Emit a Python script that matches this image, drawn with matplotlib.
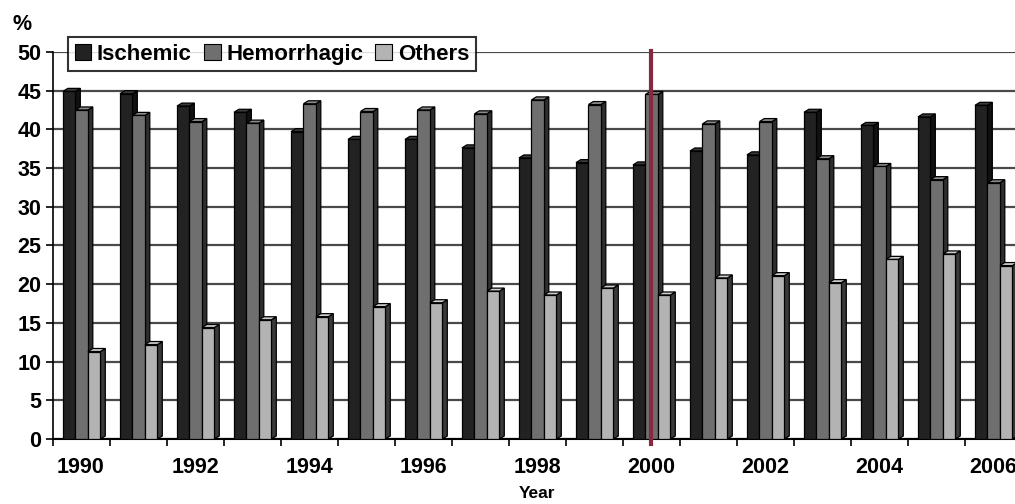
import matplotlib
matplotlib.use("Agg")
import matplotlib.pyplot as plt
from matplotlib.patches import Polygon, Patch

plt.rcParams['font.family'] = ['Liberation Sans', 'DejaVu Sans']
plt.rcParams['font.weight'] = 'bold'

years = list(range(1990, 2007))
ischemic = [44.9, 44.6, 43.0, 42.2, 39.7, 38.7, 38.7, 37.6, 36.3, 35.7, 35.4, 37.2, 36.7, 42.2, 40.5, 41.6, 43.1]
hemorrhagic = [42.5, 41.8, 41.0, 40.8, 43.3, 42.3, 42.5, 42.0, 43.8, 43.2, 44.5, 40.7, 41.0, 36.2, 35.2, 33.5, 33.1]
others = [11.3, 12.2, 14.4, 15.4, 15.8, 17.1, 17.6, 19.1, 18.6, 19.5, 18.6, 20.8, 21.1, 20.2, 23.2, 23.9, 22.4]
series_names = ["Ischemic", "Hemorrhagic", "Others"]
marker_year = 2000

# front, side, top colours for each series
front_cols = ["#222222", "#6f6f6f", "#b3b3b3"]
side_cols = ["#111111", "#2e2e2e", "#3a3a3a"]
top_cols = ["#3a3a3a", "#8a8a8a", "#cdcdcd"]

fig = plt.figure(figsize=(10.15, 5.04), dpi=100)
ax = fig.add_axes([52.5 / 1015, 0.129, 969 / 1015, 0.768])

bar_w = 0.219
start = 0.184
dx = 0.085   # depth in x (group units)
dy = 0.39    # depth in y (percent units)


def bar3d(ax, x, h, fc, sc, tc, z):
	front = Polygon([(x, 0), (x + bar_w, 0), (x + bar_w, h), (x, h)], closed=True,
		facecolor=fc, edgecolor="black", lw=0.9, zorder=z)
	side = Polygon([(x + bar_w, 0), (x + bar_w + dx, dy), (x + bar_w + dx, h + dy), (x + bar_w, h)],
		closed=True, facecolor=sc, edgecolor="black", lw=0.9, zorder=z)
	top = Polygon([(x, h), (x + bar_w, h), (x + bar_w + dx, h + dy), (x + dx, h + dy)],
		closed=True, facecolor=tc, edgecolor="black", lw=0.9, zorder=z)
	ax.add_patch(side)
	ax.add_patch(top)
	ax.add_patch(front)


data = [ischemic, hemorrhagic, others]
for i in range(len(years)):
	for k, vals in enumerate(data):
		x = i + start + k * bar_w
		bar3d(ax, x, vals[i], front_cols[k], side_cols[k], top_cols[k], 3 + i * 0.01 + k * 0.001)

ax.set_xlim(0, len(years))
ax.set_ylim(0, 50)

# grid
ax.set_yticks(range(0, 51, 5))
ax.yaxis.grid(True, color="#4a4a4a", lw=1.6, zorder=1)
ax.set_axisbelow(True)

ax.set_xticks(range(0, len(years) + 1))
ax.set_xticklabels([])
ax.set_xticks([i + 0.5 for i in range(0, len(years), 2)], minor=True)
ax.set_xticklabels([str(y) for y in years[::2]], minor=True)
ax.tick_params(axis="x", which="major", length=5, width=1.2, direction="out")
ax.tick_params(axis="x", which="minor", length=0, pad=13, labelsize=15.5)
ax.tick_params(axis="y", length=5, width=1.2, labelsize=15.5, pad=3)

for s in ["top", "right"]:
	ax.spines[s].set_visible(False)
ax.spines["left"].set_linewidth(1.2)
ax.spines["bottom"].set_linewidth(1.5)

# vertical marker at 2000
mx = years.index(marker_year) + 0.5
ax.plot([mx, mx], [-0.6, 50.1], color="#862840", lw=3, clip_on=False, zorder=10)

handles = [Patch(facecolor=front_cols[k], edgecolor="black", lw=0.8) for k in range(3)]
leg = fig.legend(handles, series_names, loc="upper left", bbox_to_anchor=(68 / 1015, 1 - 37 / 504),
	bbox_transform=fig.transFigure, ncol=3, frameon=True, fancybox=False, fontsize=16,
	handlelength=0.75, handleheight=0.75, handletextpad=0.25, columnspacing=0.55,
	borderpad=0.3, borderaxespad=0)
leg.get_frame().set_edgecolor("black")
leg.get_frame().set_linewidth(1.5)

fig.text(22 / 1015, 1 - 24 / 504, "%", ha="center", va="center", fontsize=15.5, fontweight="bold")
fig.text(537 / 1015, 1 - 493 / 504, "Year", ha="center", va="center", fontsize=12.5, fontweight="bold")

fig.savefig("out.png", dpi=100)
